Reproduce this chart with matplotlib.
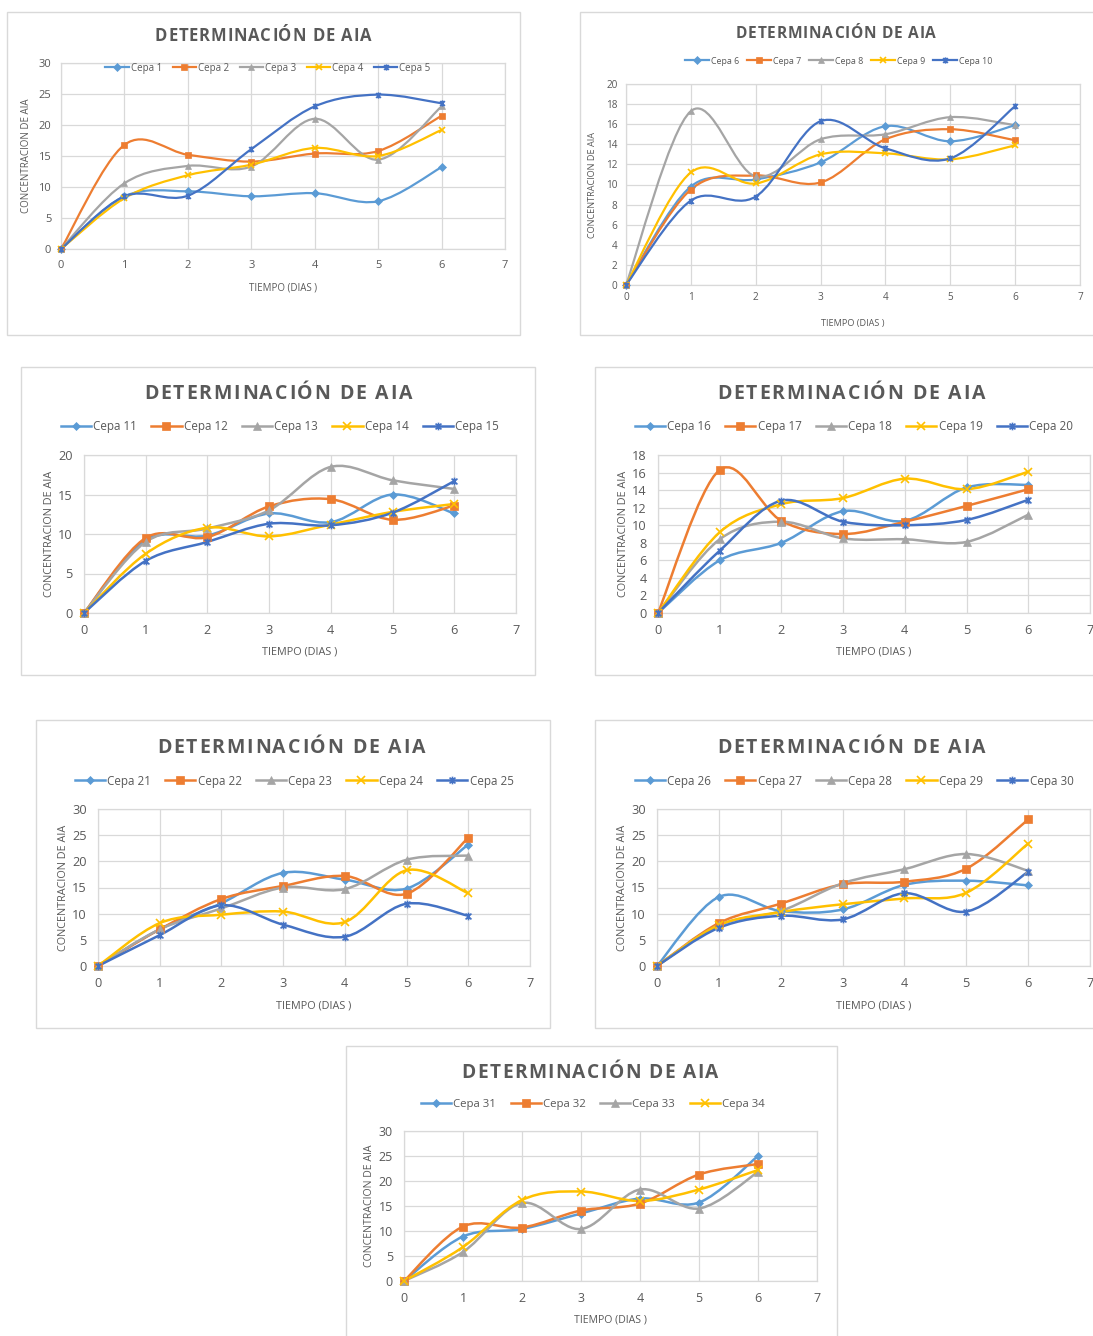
import numpy as np
import matplotlib
matplotlib.use("Agg")
import matplotlib.pyplot as plt
from matplotlib.path import Path
from matplotlib.patches import PathPatch, Rectangle
from matplotlib.lines import Line2D
from matplotlib.font_manager import FontProperties

# ---------------- data ----------------
dias = [0, 1, 2, 3, 4, 5, 6]

cepas_1_5 = [
    [0, 8.5, 9.3, 8.5, 9.0, 7.7, 13.2],
    [0, 16.8, 15.2, 14.1, 15.4, 15.8, 21.5],
    [0, 10.6, 13.4, 13.3, 21.0, 14.4, 23.0],
    [0, 8.2, 11.9, 13.6, 16.3, 15.0, 19.2],
    [0, 8.5, 8.6, 16.1, 23.0, 24.9, 23.5],
]
cepas_6_10 = [
    [0, 9.8, 10.5, 12.2, 15.8, 14.3, 15.9],
    [0, 9.5, 10.9, 10.2, 14.5, 15.5, 14.4],
    [0, 17.3, 10.8, 14.5, 15.0, 16.7, 15.9],
    [0, 11.2, 10.1, 13.0, 13.1, 12.5, 13.9],
    [0, 8.4, 8.8, 16.3, 13.6, 12.6, 17.8],
]
cepas_11_15 = [
    [0, 9.2, 9.8, 12.6, 11.5, 15.0, 12.6],
    [0, 9.5, 9.6, 13.5, 14.4, 11.8, 13.6],
    [0, 9.0, 10.7, 13.0, 18.5, 16.8, 15.7],
    [0, 7.5, 10.8, 9.7, 11.2, 12.8, 13.8],
    [0, 6.6, 9.0, 11.3, 11.1, 12.7, 16.7],
]
cepas_16_20 = [
    [0, 6.0, 8.0, 11.6, 10.5, 14.3, 14.6],
    [0, 16.3, 10.5, 9.0, 10.4, 12.2, 14.1],
    [0, 8.4, 10.4, 8.5, 8.4, 8.1, 11.2],
    [0, 9.2, 12.4, 13.1, 15.3, 14.1, 16.1],
    [0, 7.1, 12.8, 10.4, 10.0, 10.6, 12.9],
]
cepas_21_25 = [
    [0, 7.0, 12.0, 17.8, 16.5, 14.8, 23.2],
    [0, 7.0, 12.8, 15.3, 17.2, 13.8, 24.5],
    [0, 7.0, 11.0, 15.0, 14.7, 20.3, 21.1],
    [0, 8.2, 9.8, 10.4, 8.4, 18.3, 13.9],
    [0, 5.9, 11.6, 7.9, 5.6, 11.9, 9.6],
]
cepas_26_30 = [
    [0, 13.2, 10.5, 10.8, 15.5, 16.3, 15.4],
    [0, 8.2, 11.9, 15.6, 16.1, 18.6, 28.0],
    [0, 7.8, 10.5, 15.8, 18.5, 21.4, 18.2],
    [0, 7.8, 10.3, 11.8, 12.9, 14.0, 23.4],
    [0, 7.3, 9.6, 8.9, 13.9, 10.4, 18.0],
]
cepas_31_34 = [
    [0, 8.9, 10.4, 13.5, 16.5, 15.7, 25.0],
    [0, 10.9, 10.7, 14.1, 15.5, 21.3, 23.4],
    [0, 5.8, 15.6, 10.4, 18.3, 14.5, 21.8],
    [0, 6.8, 16.2, 17.9, 16.0, 18.3, 22.2],
]

titulo = "DETERMINACIÓN DE AIA"
etiqueta_x = "TIEMPO (DIAS )"
etiqueta_y = "CONCENTRACION DE AIA"

# ---------------- style ----------------
W, H, DPI = 1093, 1336, 100
GRIS_TXT = "#595959"
GRIS_LIN = "#d9d9d9"
COLORES = ["#5B9BD5", "#ED7D31", "#A5A5A5", "#FFC000", "#4472C4"]
FUENTE = ["Open Sans", "DejaVu Sans"]

# asterisk marker: an X plus a vertical stroke
_ast = Path([(-1, -1), (1, 1), (-1, 1), (1, -1), (0, -1.3), (0, 1.3)],
            [Path.MOVETO, Path.LINETO, Path.MOVETO, Path.LINETO, Path.MOVETO, Path.LINETO])
MARCADORES = [("D", 0.8), ("s", 1.0), ("^", 1.1), ("x", 1.0), (_ast, 1.0)]

plt.rcParams["font.family"] = FUENTE

fig = plt.figure(figsize=(W / DPI, H / DPI), dpi=DPI)
renderer = fig.canvas.get_renderer()


def fx(px):
    return px / W


def fy(py):
    return 1 - py / H


def smooth_path(x, y):
    """Cubic Bezier through the points with Catmull-Rom tangents."""
    pts = np.column_stack([x, y]).astype(float)
    n = len(pts)
    verts = [pts[0]]
    codes = [Path.MOVETO]
    for i in range(n - 1):
        p0 = pts[i - 1] if i > 0 else pts[i]
        p1 = pts[i]
        p2 = pts[i + 1]
        p3 = pts[i + 2] if i + 2 < n else pts[i + 1]
        c1 = p1 + (p2 - p0) / 6.0
        c2 = p2 - (p3 - p1) / 6.0
        verts += [c1, c2, p2]
        codes += [Path.CURVE4] * 3
    return Path(verts, codes)


def _w(s, fp):
    return renderer.get_text_width_height_descent(s, fp, ismath=False)[0]


def spaced_text(text, cx, cy, size, spacing):
    """Bold title with extra letter spacing, centred at (cx, cy) in pixels."""
    fp = FontProperties(family=FUENTE, weight="bold", size=size)
    base = _w("||", fp)
    adv = [_w("|" + ch + "|", fp) - base for ch in text]
    total = sum(adv) + spacing * (len(text) - 1)
    x = cx - total / 2
    cap = size * DPI / 72 * 0.714
    for ch, a in zip(text, adv):
        if ch != " ":
            fig.text(fx(x), fy(cy + cap / 2), ch, fontproperties=fp,
                     ha="left", va="baseline", color=GRIS_TXT)
        x += a + spacing


def panel(series, first, box, plot, ymax, ystep, title_xy, title_size, title_sp,
          legend_xy, legend_size, hlen, colsp, tick_size, pads, label_size, ms, lw):
    bx0, by0, bx1, by1 = box
    fig.add_artist(Rectangle((fx(bx0), fy(by1)), fx(bx1 - bx0), (by1 - by0) / H,
                             transform=fig.transFigure, facecolor="white",
                             edgecolor=GRIS_LIN, lw=1.0, zorder=-5))
    x0, ytop, x7, ybot = plot
    ax = fig.add_axes([fx(x0), fy(ybot), fx(x7 - x0), (ybot - ytop) / H])
    ax.set_xlim(0, 7)
    ax.set_ylim(0, ymax)
    ax.set_xticks(range(0, 8))
    ax.set_yticks(np.arange(0, ymax + 0.1, ystep))
    ax.grid(True, color=GRIS_LIN, lw=0.9)
    ax.set_axisbelow(True)
    for s in ax.spines.values():
        s.set_color(GRIS_LIN)
        s.set_linewidth(0.9)
    ax.tick_params(axis="x", length=0, labelsize=tick_size, colors=GRIS_TXT, pad=pads[0])
    ax.tick_params(axis="y", length=0, labelsize=tick_size, colors=GRIS_TXT, pad=pads[1])
    ax.set_xlabel(etiqueta_x, fontsize=label_size, color=GRIS_TXT)
    ax.set_ylabel(etiqueta_y, fontsize=label_size, color=GRIS_TXT)
    ax.xaxis.set_label_coords(0.5, -34.0 / (ybot - ytop))
    ax.yaxis.set_label_coords(-29.0 / (x7 - x0), 0.5)

    handles, labels = [], []
    for k, vals in enumerate(series):
        col = COLORES[k]
        mk, mscale = MARCADORES[k]
        ax.add_patch(PathPatch(smooth_path(dias, vals), facecolor="none",
                               edgecolor=col, lw=lw, zorder=3, capstyle="round"))
        mew = 1.2 if k >= 3 else 0.5
        ax.plot(dias, vals, ls="none", marker=mk, ms=ms * mscale, color=col,
                mec=col, mew=mew, zorder=4, clip_on=False)
        handles.append(Line2D([], [], color=col, lw=lw, marker=mk,
                              ms=ms * mscale, mew=mew))
        labels.append(f"Cepa {first + k}")

    fig.legend(handles, labels, loc="center",
               bbox_to_anchor=(fx(legend_xy[0]), fy(legend_xy[1])),
               ncol=len(series), frameon=False, fontsize=legend_size,
               handlelength=hlen, handletextpad=0.2, columnspacing=colsp,
               labelcolor=GRIS_TXT, numpoints=1, borderpad=0, borderaxespad=0)

    spaced_text(titulo, title_xy[0], title_xy[1], title_size, title_sp)
    return ax


panel(cepas_1_5, 1, (7, 12, 520, 335), (61, 63, 505, 249), 30, 5,
      (263, 35), 12.0, 0.9, (268, 68), 7.0, 2.4, 1.1, 8.0, (8, 7), 7.0, 4.5, 1.6)
panel(cepas_6_10, 6, (580, 12, 1100, 335), (626, 84, 1080, 285), 20, 2,
      (836, 32), 11.2, 0.8, (839, 61), 6.4, 2.7, 0.9, 7.2, (5, 6), 6.6, 4.5, 1.6)
panel(cepas_11_15, 11, (21, 367, 535, 675), (84, 455, 516, 613), 20, 5,
      (278, 392), 14.0, 1.8, (280, 427), 8.4, 2.6, 1.2, 9.2, (8, 8), 7.8, 5.5, 1.8)
panel(cepas_16_20, 16, (595, 367, 1100, 675), (658, 455, 1090, 613), 18, 2,
      (851, 392), 14.0, 1.8, (854, 427), 8.4, 2.6, 1.2, 9.2, (8, 8), 7.8, 5.5, 1.8)
panel(cepas_21_25, 21, (36, 720, 550, 1028), (98, 809, 530, 966), 30, 5,
      (291, 746), 14.0, 1.8, (294, 781), 8.4, 2.6, 1.2, 9.2, (8, 8), 7.8, 5.5, 1.8)
panel(cepas_26_30, 26, (595, 720, 1100, 1028), (657, 809, 1090, 966), 30, 5,
      (851, 746), 14.0, 1.8, (854, 781), 8.4, 2.6, 1.2, 9.2, (8, 8), 7.8, 5.5, 1.8)
panel(cepas_31_34, 31, (346, 1046, 837, 1340), (404, 1131, 817, 1281), 30, 5,
      (590, 1071), 13.8, 1.4, (593, 1104), 8.2, 2.6, 1.3, 9.0, (8, 8), 7.6, 5.5, 1.8)

fig.savefig("out.png", dpi=DPI, facecolor="white")
